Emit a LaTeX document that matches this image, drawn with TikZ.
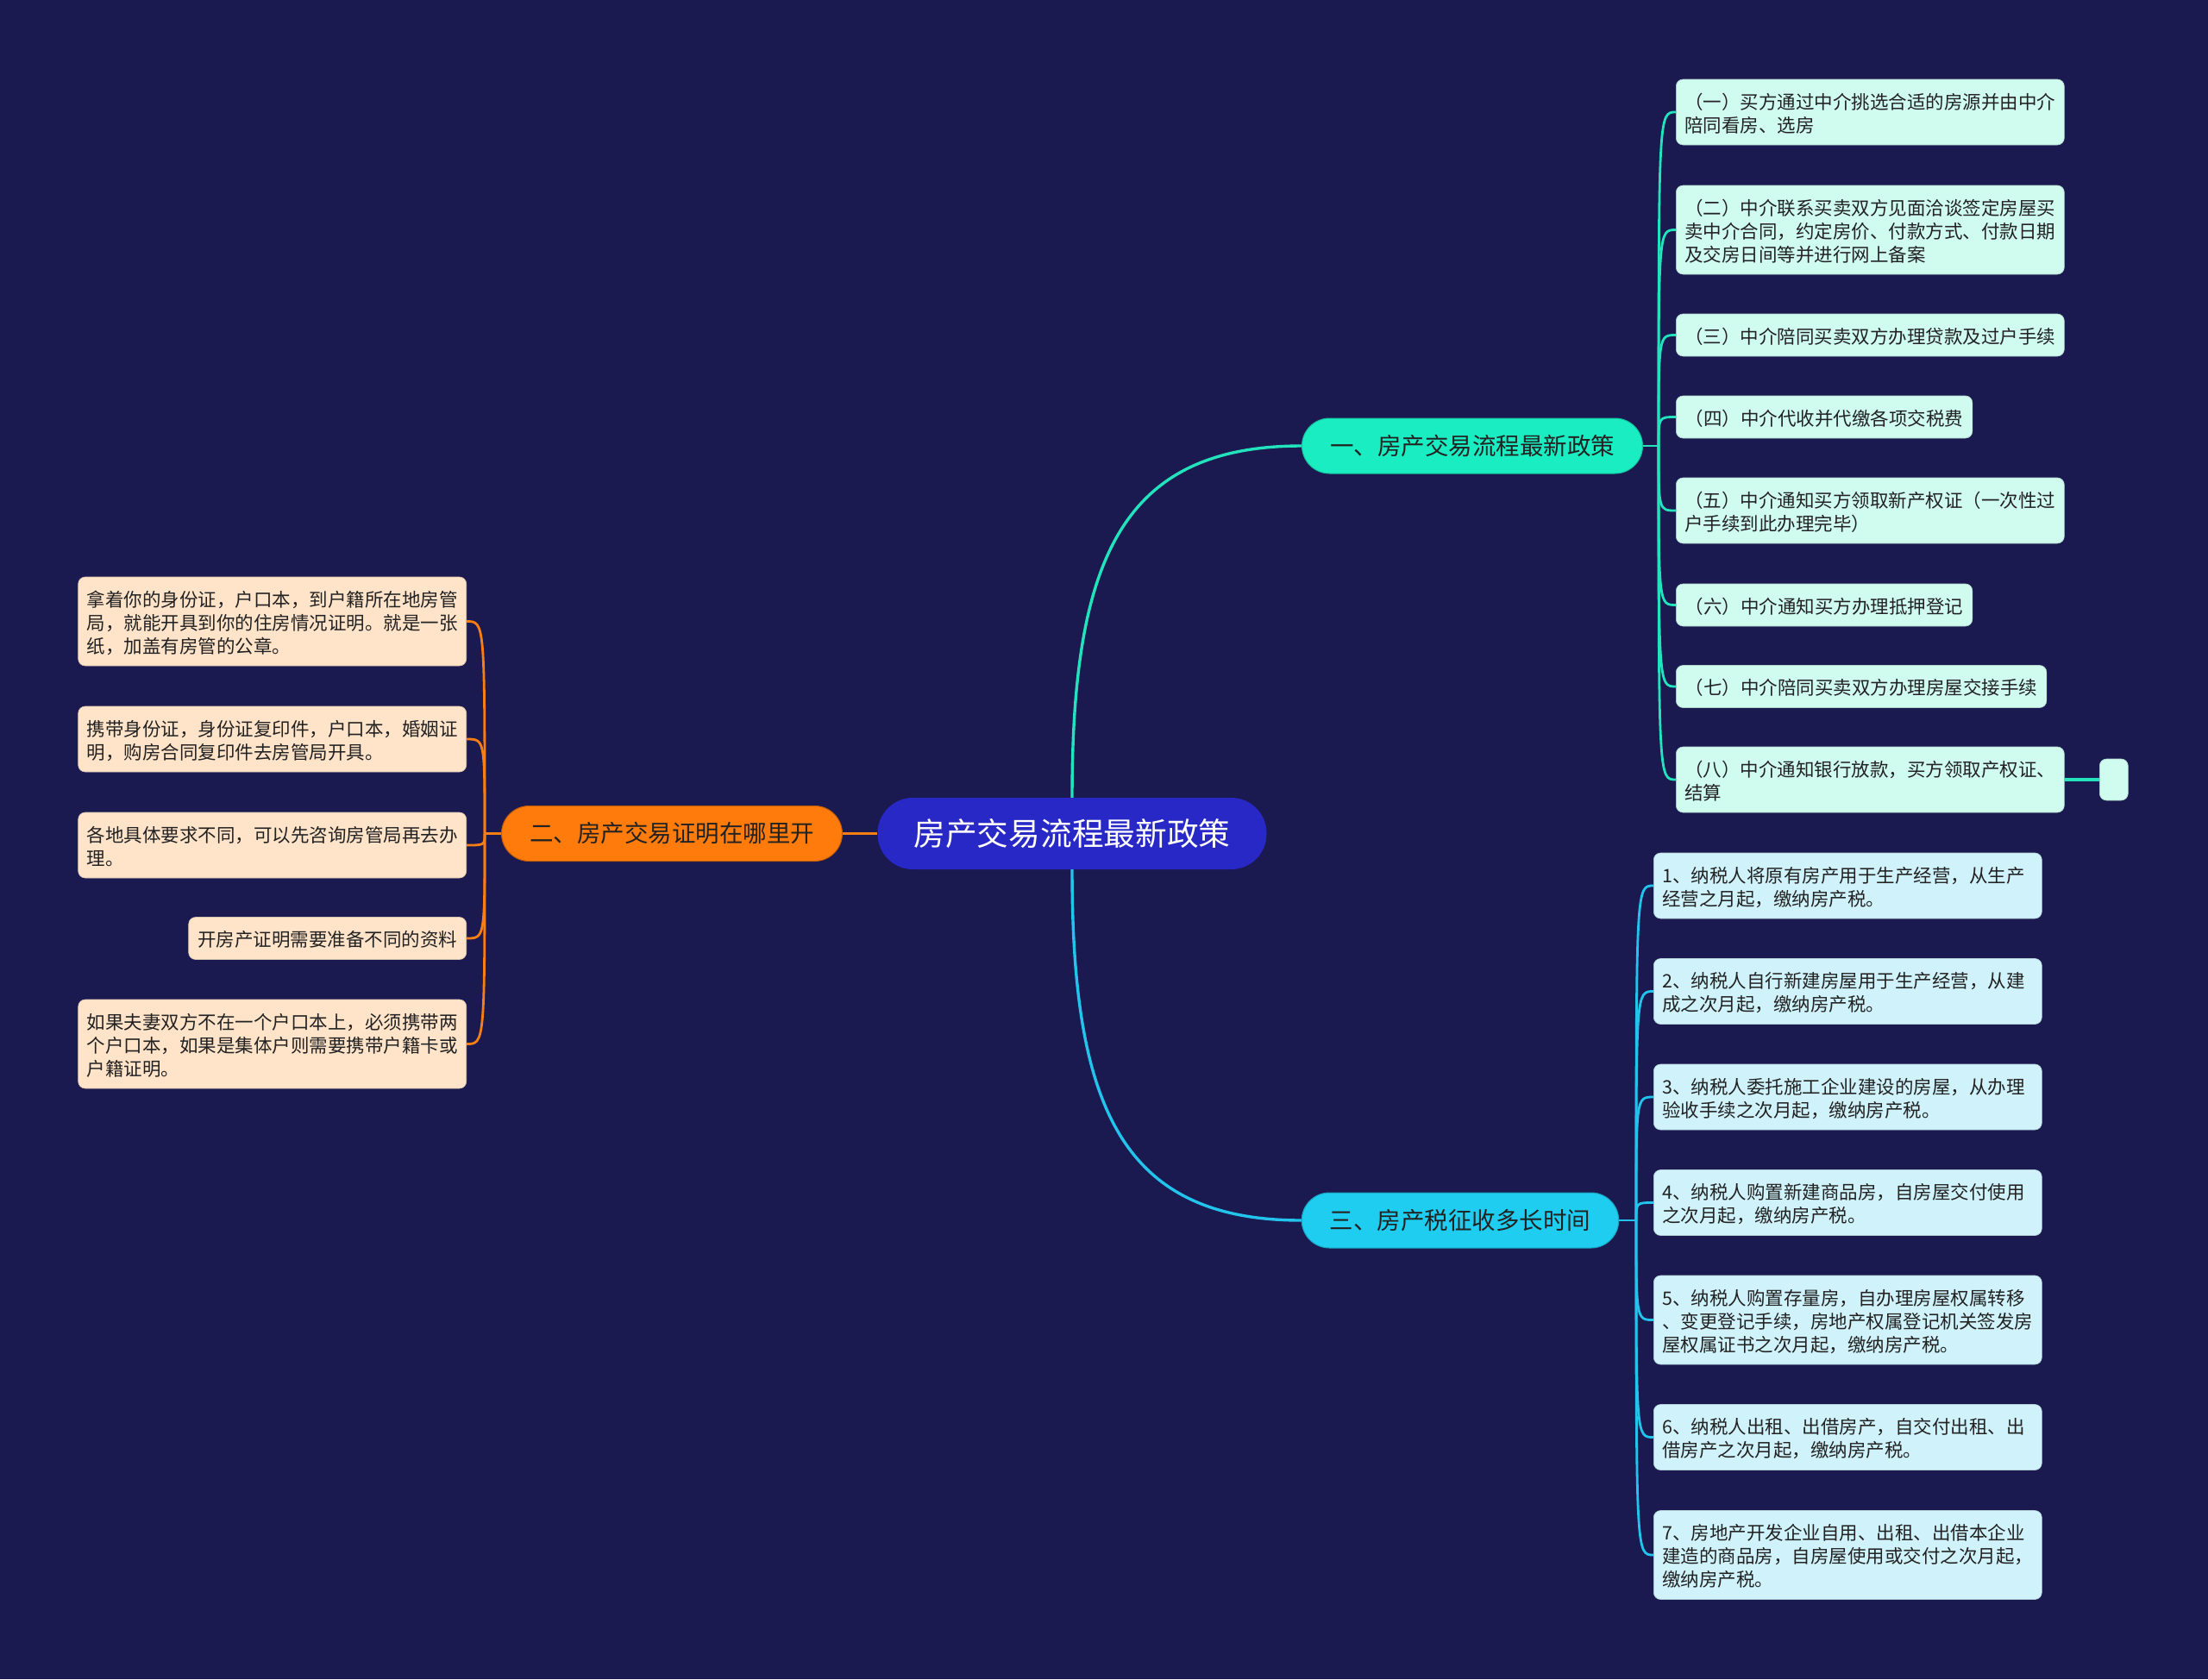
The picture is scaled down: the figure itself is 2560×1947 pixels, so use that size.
\documentclass[tikz,border=0pt]{standalone}
\usepackage{fontspec}
\setmainfont{Noto Sans CJK SC}
\usetikzlibrary{calc}
\definecolor{bg}{HTML}{1A1950}
\definecolor{rootc}{HTML}{2828C6}
\definecolor{bAc}{HTML}{1AEDC2}
\definecolor{bBc}{HTML}{FF7B0B}
\definecolor{bCc}{HTML}{1ECDF0}
\definecolor{lAc}{HTML}{D0FBEF}
\definecolor{lBc}{HTML}{FFE4CA}
\definecolor{lCc}{HTML}{D0F3FB}
\definecolor{kA}{HTML}{22E3BC}
\definecolor{kB}{HTML}{F77E12}
\definecolor{kC}{HTML}{22C4EC}
\definecolor{txt}{HTML}{222222}
\newcommand\lstrut{\rule[-4pt]{0pt}{27pt}}
\tikzset{
  rootnode/.style={fill=rootc, text=white, rounded corners=41pt, minimum height=83pt,
    inner xsep=42pt, inner ysep=0pt, font=\fontsize{36.7pt}{44pt}\selectfont},
  branch/.style={rounded corners=32pt, minimum height=64pt, inner xsep=32.5pt,
    inner ysep=0pt, text=txt, font=\fontsize{27.5pt}{33pt}\selectfont},
  leaf/.style={rounded corners=8pt, inner xsep=10.5pt, inner ysep=11pt, align=left,
    text=txt, font=\fontsize{21.5pt}{27pt}\selectfont,
    execute at begin node=\lstrut, execute at end node=\lstrut},
  wide/.style={text width=430pt, inner xsep=10pt},
  leafA/.style={leaf, fill=lAc, draw=lAc!85!black, line width=0.6pt},
  leafB/.style={leaf, fill=lBc, draw=lBc!85!black, line width=0.6pt},
  leafC/.style={leaf, fill=lCc, draw=lCc!85!black, line width=0.6pt},
  lnA/.style={draw=kA, line width=2.8pt},
  lnB/.style={draw=kB, line width=2.8pt},
  lnC/.style={draw=kC, line width=2.8pt},
}
\begin{document}
\begin{tikzpicture}[x=1pt,y=-1pt]
\useasboundingbox (0,0) rectangle (2560,1947);
\fill[bg] (0,0) rectangle (2560,1947);

% main nodes
\node[rootnode] (root) at (1243,966.5) {房产交易流程最新政策};
\node[branch, fill=bAc, draw=bAc!80!black, line width=1pt] (b1) at (1707,517) {一、房产交易流程最新政策};
\node[branch, fill=bBc, draw=bBc!75!black, line width=1pt] (b2) at (779,966.5) {二、房产交易证明在哪里开};
\node[branch, fill=bCc, draw=bCc!80!black, line width=1pt] (b3) at (1693,1415) {三、房产税征收多长时间};

% hubs
\coordinate (h1) at (1923,517);
\coordinate (h2) at (562,966.5);
\coordinate (h3) at (1897,1415);

% upper right leaves
\node[leafA, wide, anchor=west] (a1) at (1943,130) {（一）买方通过中介挑选合适的房源并由中介\\陪同看房、选房};
\node[leafA, wide, anchor=west] (a2) at (1943,266.5) {（二）中介联系买卖双方见面洽谈签定房屋买\\卖中介合同，约定房价、付款方式、付款日期\\及交房日间等并进行网上备案};
\node[leafA, wide, anchor=west] (a3) at (1943,388.5) {（三）中介陪同买卖双方办理贷款及过户手续};
\node[leafA, anchor=west] (a4) at (1943,483.5) {（四）中介代收并代缴各项交税费};
\node[leafA, wide, anchor=west] (a5) at (1943,592) {（五）中介通知买方领取新产权证（一次性过\\户手续到此办理完毕）};
\node[leafA, anchor=west] (a6) at (1943,701.5) {（六）中介通知买方办理抵押登记};
\node[leafA, anchor=west] (a7) at (1943,796) {（七）中介陪同买卖双方办理房屋交接手续};
\node[leafA, wide, anchor=west] (a8) at (1943,904) {（八）中介通知银行放款，买方领取产权证、\\结算};
\node[fill=lAc, draw=lAc!85!black, line width=0.6pt, rounded corners=8pt, minimum width=33pt,
  minimum height=48pt, inner sep=0pt, anchor=west] (a9) at (2434,904) {};

% left leaves
\node[leafB, wide, anchor=east] (c1) at (541,720.5) {拿着你的身份证，户口本，到户籍所在地房管\\局，就能开具到你的住房情况证明。就是一张\\纸，加盖有房管的公章。};
\node[leafB, wide, anchor=east] (c2) at (541,857) {携带身份证，身份证复印件，户口本，婚姻证\\明，购房合同复印件去房管局开具。};
\node[leafB, wide, anchor=east] (c3) at (541,980) {各地具体要求不同，可以先咨询房管局再去办\\理。};
\node[leafB, anchor=east] (c4) at (541,1088) {开房产证明需要准备不同的资料};
\node[leafB, wide, anchor=east] (c5) at (541,1210.5) {如果夫妻双方不在一个户口本上，必须携带两\\个户口本，如果是集体户则需要携带户籍卡或\\户籍证明。};

% lower right leaves
\node[leafC, wide, anchor=west] (d1) at (1917,1027) {1、纳税人将原有房产用于生产经营，从生产\\经营之月起，缴纳房产税。};
\node[leafC, wide, anchor=west] (d2) at (1917,1149.5) {2、纳税人自行新建房屋用于生产经营，从建\\成之次月起，缴纳房产税。};
\node[leafC, wide, anchor=west] (d3) at (1917,1272) {3、纳税人委托施工企业建设的房屋，从办理\\验收手续之次月起，缴纳房产税。};
\node[leafC, wide, anchor=west] (d4) at (1917,1394.5) {4、纳税人购置新建商品房，自房屋交付使用\\之次月起，缴纳房产税。};
\node[leafC, wide, anchor=west] (d5) at (1917,1530.5) {5、纳税人购置存量房，自办理房屋权属转移\\、变更登记手续，房地产权属登记机关签发房\\屋权属证书之次月起，缴纳房产税。};
\node[leafC, wide, anchor=west] (d6) at (1917,1666.5) {6、纳税人出租、出借房产，自交付出租、出\\借房产之次月起，缴纳房产税。};
\node[leafC, wide, anchor=west] (d7) at (1917,1803) {7、房地产开发企业自用、出租、出借本企业\\建造的商品房，自房屋使用或交付之次月起，\\缴纳房产税。};

% connectors
\draw[lnA, line width=3.4pt] (root.north)
  .. controls ($(root.north)!0.67!(root.north |- b1.west)$)
  and ($(root.north |- b1.west)!0.21!(b1.west)$) .. (b1.west);
\draw[lnB, line width=3.8pt] (root.west) -- (b2.east);
\draw[lnC, line width=3.4pt] (root.south)
  .. controls ($(root.south)!0.67!(root.south |- b3.west)$)
  and ($(root.south |- b3.west)!0.21!(b3.west)$) .. (b3.west);

\draw[lnA] (b1.east) -- (h1);
\foreach \n in {a1,a2,a3,a4,a5,a6,a7,a8}
  \draw[lnA] (h1) .. controls (h1 |- \n.west) .. (\n.west);
\draw[lnA, line width=4pt] (a8.east) -- (a9.west);

\draw[lnB] (b2.west) -- (h2);
\foreach \n in {c1,c2,c3,c4,c5}
  \draw[lnB] (h2) .. controls (h2 |- \n.east) .. (\n.east);

\draw[lnC] (b3.east) -- (h3);
\foreach \n in {d1,d2,d3,d4,d5,d6,d7}
  \draw[lnC] (h3) .. controls (h3 |- \n.west) .. (\n.west);
\end{tikzpicture}
\end{document}
